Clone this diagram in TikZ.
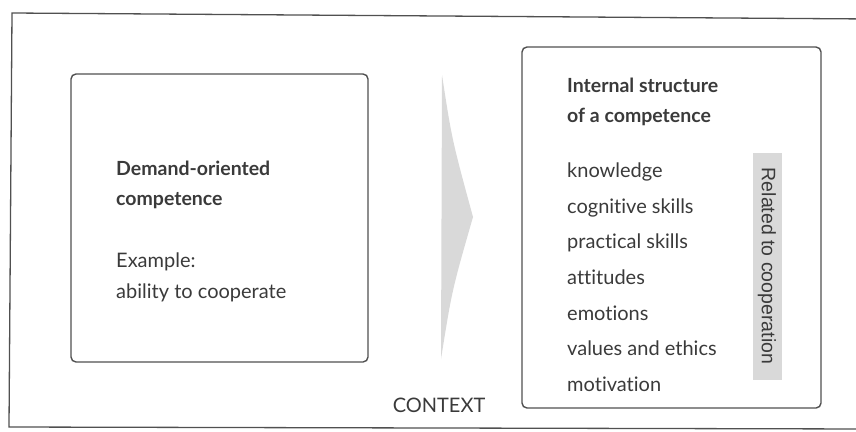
\documentclass[tikz,border=0pt]{standalone}
\usepackage{fontspec}
\setmainfont{Lato}[Ligatures={NoCommon,NoContextual}]
\newfontfamily\relfont{Liberation Sans}
\definecolor{ink}{HTML}{3A3A3A}
\definecolor{frame}{HTML}{505050}
\definecolor{stipple}{HTML}{D9D9D9}
\begin{document}
\begin{tikzpicture}[x=1pt,y=-1pt,
  box/.style={draw=frame,line width=1.4pt,rounded corners=5pt,inner sep=0pt},
  txt/.style={anchor=base west,inner sep=0pt,text=ink,font=\fontsize{20}{24}\selectfont},
  head/.style={txt,font=\fontsize{19.5}{24}\selectfont\bfseries},
  rel/.style={fill=stipple,inner sep=0pt,rotate=-90,text=ink,font=\relfont\fontsize{19.5}{22}\selectfont}]
\useasboundingbox (0,0) rectangle (856,431);
% outer frame (open to the right)
\draw[frame,line width=1.3pt] (870,19) -- (12,13) -- (9,427) -- (870,429);
% left box
\node[box,minimum width=297pt,minimum height=288pt] (demand) at (219.5,218) {};
\node[head] (d1) at (116,175) {Demand-oriented};
\node[head] (d2) at (116,205) {competence};
\node[txt] (d3) at (116,267) {Example:};
\node[txt] (d4) at (116,298) {ability to cooperate};
% context arrow
\fill[stipple] (442,75) .. controls (452,140) .. (473,217) .. controls (452,290) .. (441,359) -- cycle;
\node[txt,anchor=base] (ctx) at (439,412) {CONTEXT};
% right box
\node[box,minimum width=299pt,minimum height=361pt] (internal) at (671.5,227.5) {};
\node[head] (i1) at (567,92) {Internal structure};
\node[head] (i2) at (567,122) {of a competence};
\node[txt] (l1) at (567,177) {knowledge};
\node[txt] (l2) at (567,213) {cognitive skills};
\node[txt] (l3) at (567,248) {practical skills};
\node[txt] (l4) at (567,284) {attitudes};
\node[txt] (l5) at (567,320) {emotions};
\node[txt] (l6) at (567,355) {values and ethics};
\node[txt] (l7) at (567,391) {motivation};
\node[rel,minimum width=227pt,minimum height=29pt] (related) at (767,266) {Related to cooperation};
\end{tikzpicture}
\end{document}
